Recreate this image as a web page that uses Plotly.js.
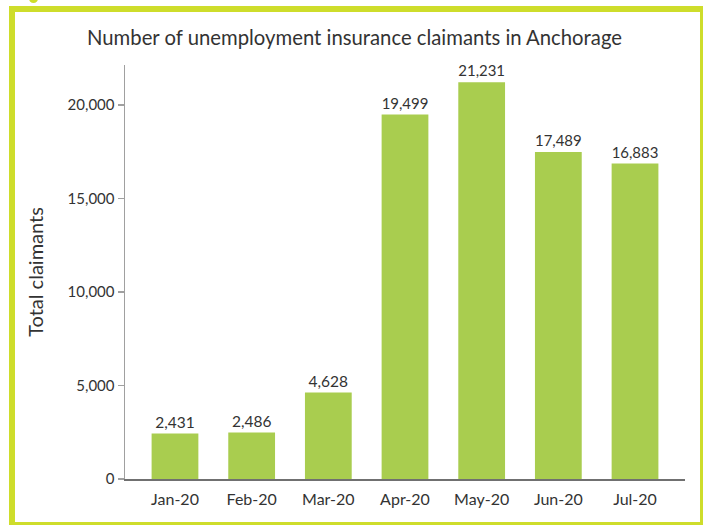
<!DOCTYPE html>
<html>
<head>
<meta charset="utf-8">
<script src="https://cdn.plot.ly/plotly-3.0.1.min.js"></script>
<style>
  html, body { margin: 0; padding: 0; background: #fff; }
  #wrap { position: relative; width: 709px; height: 525px; overflow: hidden; }
  #chart { position: absolute; left: 0; top: 0; width: 709px; height: 525px; }
  #frame { position: absolute; left: 9px; top: 6px; width: 694px; height: 519px; box-sizing: border-box;
           border-left: 6px solid #cedd2b; border-top: 6px solid #cedd2b;
           border-right: 3px solid #cedd2b; border-bottom: 3px solid #cedd2b; pointer-events: none; }
  #dot { position: absolute; left: 29px; top: -6px; width: 9px; height: 9px; border-radius: 50%; background: #cedd2b; }
</style>
</head>
<body>
<div id="wrap">
  <div id="chart"></div>
  <div id="frame"></div>
  <div id="dot"></div>
</div>
<script>
const months = ["Jan-20", "Feb-20", "Mar-20", "Apr-20", "May-20", "Jun-20", "Jul-20"];
const claimants = [2431, 2486, 4628, 19499, 21231, 17489, 16883];
const yTickVals = [0, 5000, 10000, 15000, 20000];
const yTickText = ["0", "5,000", "10,000", "15,000", "20,000"];
const chartTitle = "Number of unemployment insurance claimants in Anchorage";
const yTitle = "Total claimants";

const FONT = "Lato, 'Noto Sans', sans-serif";

Plotly.newPlot("chart", [{
  type: "bar",
  x: months,
  y: claimants,
  marker: { color: "#a9cd4f" },
  width: 0.61,
  texttemplate: "%{y:,}",
  textposition: "outside",
  textfont: { family: FONT, size: 15.5, color: "#333" },
  cliponaxis: false,
  hoverinfo: "x+y"
}], {
  width: 709, height: 525,
  margin: { l: 125, r: 24, t: 65, b: 46 },
  paper_bgcolor: "rgba(0,0,0,0)",
  plot_bgcolor: "rgba(0,0,0,0)",
  font: { family: FONT, color: "#333" },
  title: {
    text: chartTitle,
    font: { family: FONT, size: 20.3, color: "#333" },
    x: 0.5, xanchor: "center",
    y: 1 - 38 / 525, yanchor: "middle", yref: "container"
  },
  xaxis: {
    type: "category",
    range: [-0.652, 6.652],
    showline: true, linecolor: "#707070", linewidth: 1.5,
    ticks: "", showgrid: false, zeroline: false,
    tickfont: { family: FONT, size: 16, color: "#333" },
    ticklabelstandoff: 5
  },
  yaxis: {
    range: [0, 22150],
    tickvals: yTickVals, ticktext: yTickText,
    showline: true, linecolor: "#a0a0a0", linewidth: 1.5,
    ticks: "outside", ticklen: 6, tickcolor: "#a0a0a0", tickwidth: 1.5,
    showgrid: false, zeroline: false,
    tickfont: { family: FONT, size: 15, color: "#333" },
    title: { text: yTitle, font: { family: FONT, size: 20, color: "#333" }, standoff: 18 }
  },
  showlegend: false
}, { displayModeBar: false, staticPlot: true });
</script>
</body>
</html>
